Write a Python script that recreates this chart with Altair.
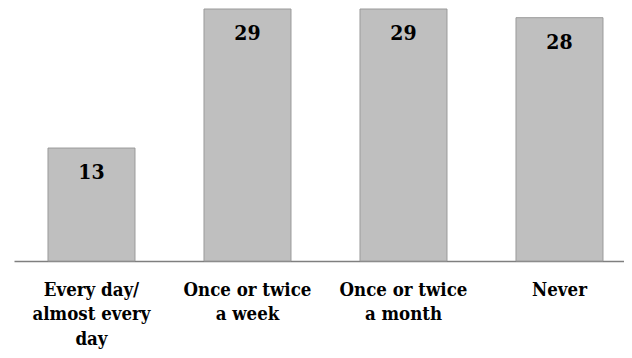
import altair as alt
import pandas as pd

categories = ["Every day/\nalmost every\nday", "Once or twice\na week", "Once or twice\na month", "Never"]
values = [13, 29, 29, 28]

df = pd.DataFrame({"category": categories, "value": values})

FONT = "DejaVu Serif Condensed, DejaVu Serif"

x = alt.X(
    "category:N",
    sort=None,
    title=None,
    scale=alt.Scale(paddingInner=0.4423, paddingOuter=0.1763, align=0.618),
    axis=alt.Axis(
        labelExpr="split(datum.label, '\\n')",
        labelAngle=0,
        labelFont=FONT,
        labelFontSize=18.5,
        labelFontWeight="bold",
        labelColor="#000000",
        labelLineHeight=24.5,
        labelPadding=19,
        labelBaseline="top",
        ticks=False,
        domainColor="#7f7f7f",
        domainWidth=1.5,
        grid=False,
    ),
)
y = alt.Y(
    "value:Q",
    title=None,
    scale=alt.Scale(domain=[0, 29], nice=False),
    axis=None,
)

bars = alt.Chart(df).mark_bar(
    color="#bfbfbf", stroke="#9a9a9a", strokeWidth=1
).encode(x=x, y=y)

text = alt.Chart(df).mark_text(
    font=FONT, fontSize=21, fontWeight="bold", color="#000000",
    baseline="middle", dy=25
).encode(x=alt.X("category:N", sort=None), y="value:Q", text="value:Q")

chart = alt.layer(bars, text).properties(
    width=610, height=252,
    padding={"left": 6, "top": 1, "right": 0, "bottom": 89},
    autosize=alt.AutoSizeParams(type="none"),
).configure_view(stroke=None)

chart.save("out.html", embed_options={"renderer": "svg", "actions": False})
